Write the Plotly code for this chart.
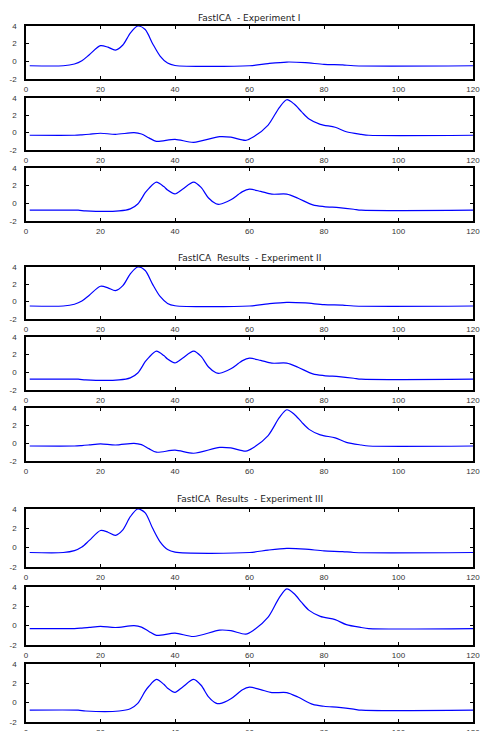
import plotly.graph_objects as go

# ---- data ----
s1_x = [1, 10, 13, 15, 17, 20, 22, 24, 26, 28, 30, 32, 34, 36, 38, 40, 60, 65, 70, 75, 80, 85, 88, 120]
s1_y = [-0.5, -0.5, -0.3, 0.07, 0.75, 1.78, 1.6, 1.28, 1.85, 3.2, 4.0, 3.6, 2.0, 0.6, -0.2, -0.47, -0.5, -0.25, -0.08, -0.15, -0.34, -0.4, -0.5, -0.5]

s2_x = [1, 13, 15, 17, 20, 24, 29, 31, 33, 35, 40, 45, 52, 55, 59, 61, 65, 68, 70, 72, 74, 76, 79, 83, 86, 90, 92, 120]
s2_y = [-0.3, -0.3, -0.25, -0.18, -0.07, -0.19, 0.0, -0.15, -0.6, -1.0, -0.77, -1.12, -0.46, -0.52, -0.88, -0.5, 0.88, 2.9, 3.8, 3.3, 2.4, 1.58, 0.96, 0.62, 0.11, -0.19, -0.3, -0.3]

s3_x = [1, 14, 16, 25, 28, 30, 32, 33, 35, 37, 38, 40, 42, 45, 47, 49, 51, 52, 55, 57, 58, 60, 63, 66, 70, 73, 77, 80, 84, 88, 90, 120]
s3_y = [-0.78, -0.78, -0.86, -0.86, -0.63, -0.08, 1.2, 1.7, 2.4, 1.9, 1.5, 1.07, 1.6, 2.4, 1.8, 0.6, -0.05, -0.1, 0.4, 1.0, 1.3, 1.6, 1.35, 1.04, 1.04, 0.58, -0.18, -0.37, -0.49, -0.67, -0.78, -0.78]

signals = {"s1": (s1_x, s1_y), "s2": (s2_x, s2_y), "s3": (s3_x, s3_y)}

titles = ["FastICA  - Experiment I", "FastICA  Results  - Experiment II", "FastICA  Results  - Experiment III"]
groups = [["s1", "s2", "s3"], ["s1", "s3", "s2"], ["s1", "s2", "s3"]]

x_ticks = [0, 20, 40, 60, 80, 100, 120]
y_ticks = [-2, 0, 2, 4]

# panel pixel positions (top, bottom)
W, H = 480, 731
panels_px = [(26, 79), (98, 150), (168, 221),
             (267, 319), (337, 390), (408, 461),
             (509, 567), (587, 645), (664, 722)]
title_px = [18, 258, 499]
x_left, x_right = 26, 473

fig = go.Figure()
font = dict(family="Liberation Sans, Arial, sans-serif", size=8, color="#333333")

k = 0
for g, order in enumerate(groups):
    for key in order:
        k += 1
        xs, ys = signals[key]
        xa = "x" if k == 1 else f"x{k}"
        ya = "y" if k == 1 else f"y{k}"
        fig.add_trace(go.Scatter(x=xs, y=ys, mode="lines", xaxis=xa, yaxis=ya,
                                 line=dict(color="#0000ff", width=1.2, shape="spline", smoothing=0.8),
                                 showlegend=False, hoverinfo="skip"))
        top, bot = panels_px[k - 1]
        axname = "xaxis" if k == 1 else f"xaxis{k}"
        ayname = "yaxis" if k == 1 else f"yaxis{k}"
        fig.update_layout({
            axname: dict(domain=[x_left / W, x_right / W], range=[0, 120], anchor=ya,
                         tickvals=x_ticks, ticktext=[str(v) for v in x_ticks],
                         ticks="inside", ticklen=3, tickwidth=1, tickcolor="black",
                         showline=True, linecolor="black", linewidth=1.6, mirror="ticks",
                         showgrid=False, zeroline=False, tickfont=font, ticklabelstandoff=2,
                         ticklabeloverflow="allow", automargin=False),
            ayname: dict(domain=[1 - bot / H, 1 - top / H], range=[-2, 4], anchor=xa,
                         tickvals=y_ticks, ticktext=[str(v) for v in y_ticks],
                         ticks="inside", ticklen=3, tickwidth=1, tickcolor="black",
                         showline=True, linecolor="black", linewidth=1.6, mirror="ticks",
                         showgrid=False, zeroline=False, tickfont=font, ticklabelstandoff=6,
                         ticklabeloverflow="allow", automargin=False),
        })

for t, ty in zip(titles, title_px):
    fig.add_annotation(text=t, x=(x_left + x_right) / 2 / W, y=1 - ty / H, xref="paper", yref="paper",
                       showarrow=False, xanchor="center", yanchor="middle",
                       font=dict(family="DejaVu Sans, sans-serif", size=9, color="#222222"))

fig.update_layout(width=W, height=H, margin=dict(l=0, r=0, t=0, b=0, autoexpand=False),
                  paper_bgcolor="white", plot_bgcolor="white")

fig.write_html("out.html")
